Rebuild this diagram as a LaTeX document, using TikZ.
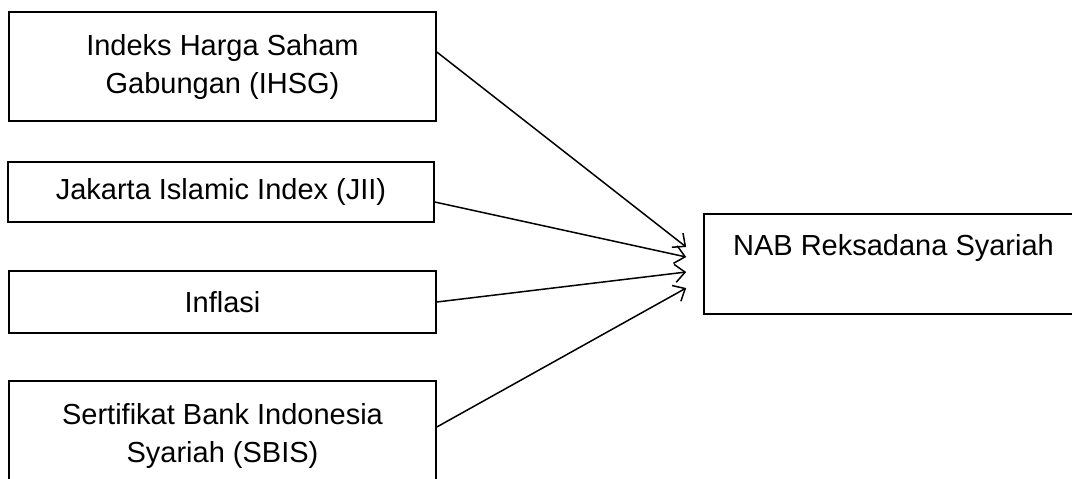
\documentclass[tikz,border=0pt]{standalone}
\usepackage{fontspec}
\setmainfont{Liberation Sans}
\usetikzlibrary{arrows.meta, calc}

\begin{document}
\begin{tikzpicture}[x=0.5pt, y=-0.5pt, >={Straight Barb[length=5pt, width=9pt]}]

  % Styles
  \tikzset{
    var box/.style={draw, line width=0.8pt, align=center, inner sep=0pt,
      font=\fontsize{14.5}{19}\selectfont},
    link/.style={->, line width=0.75pt}
  }

  \useasboundingbox (0,0) rectangle (1072,478);

  % --- INDEPENDENT VARIABLES ---
  \node[var box, minimum width=213.5pt, minimum height=54.5pt] (ihsg) at (222.5,66.5)
    {Indeks Harga Saham\\Gabungan (IHSG)};
  \node[var box, minimum width=213pt, minimum height=30pt] (jii) at (221,192)
    {Jakarta Islamic Index (JII)};
  \node[var box, minimum width=213.5pt, minimum height=31pt] (inflasi) at (222.5,302)
    {Inflasi};
  \node[var box, minimum width=213.5pt, minimum height=54.5pt] (sbis) at (222.5,435.5)
    {Sertifikat Bank Indonesia\\Syariah (SBIS)};

  % --- DEPENDENT VARIABLE ---
  \node[var box, minimum width=189.5pt, minimum height=50pt] (nab) at (893.5,264)
    {NAB Reksadana Syariah\\\mbox{}};

  % --- ARROW ENDS (just short of the box) ---
  \coordinate (t1) at ($(nab.west)+(-17,-17)$);
  \coordinate (t2) at ($(nab.west)+(-17,-7)$);
  \coordinate (t3) at ($(nab.west)+(-17,8)$);
  \coordinate (t4) at ($(nab.west)+(-17,24)$);

  % --- CONNECTIONS ---
  \draw[link] ($(ihsg.east)+(0,-14.5)$) -- (t1);
  \draw[link] ($(jii.east)+(0,10)$) -- (t2);
  \draw[link] (inflasi.east) -- (t3);
  \draw[link] ($(sbis.east)+(0,-8.5)$) -- (t4);

\end{tikzpicture}
\end{document}
